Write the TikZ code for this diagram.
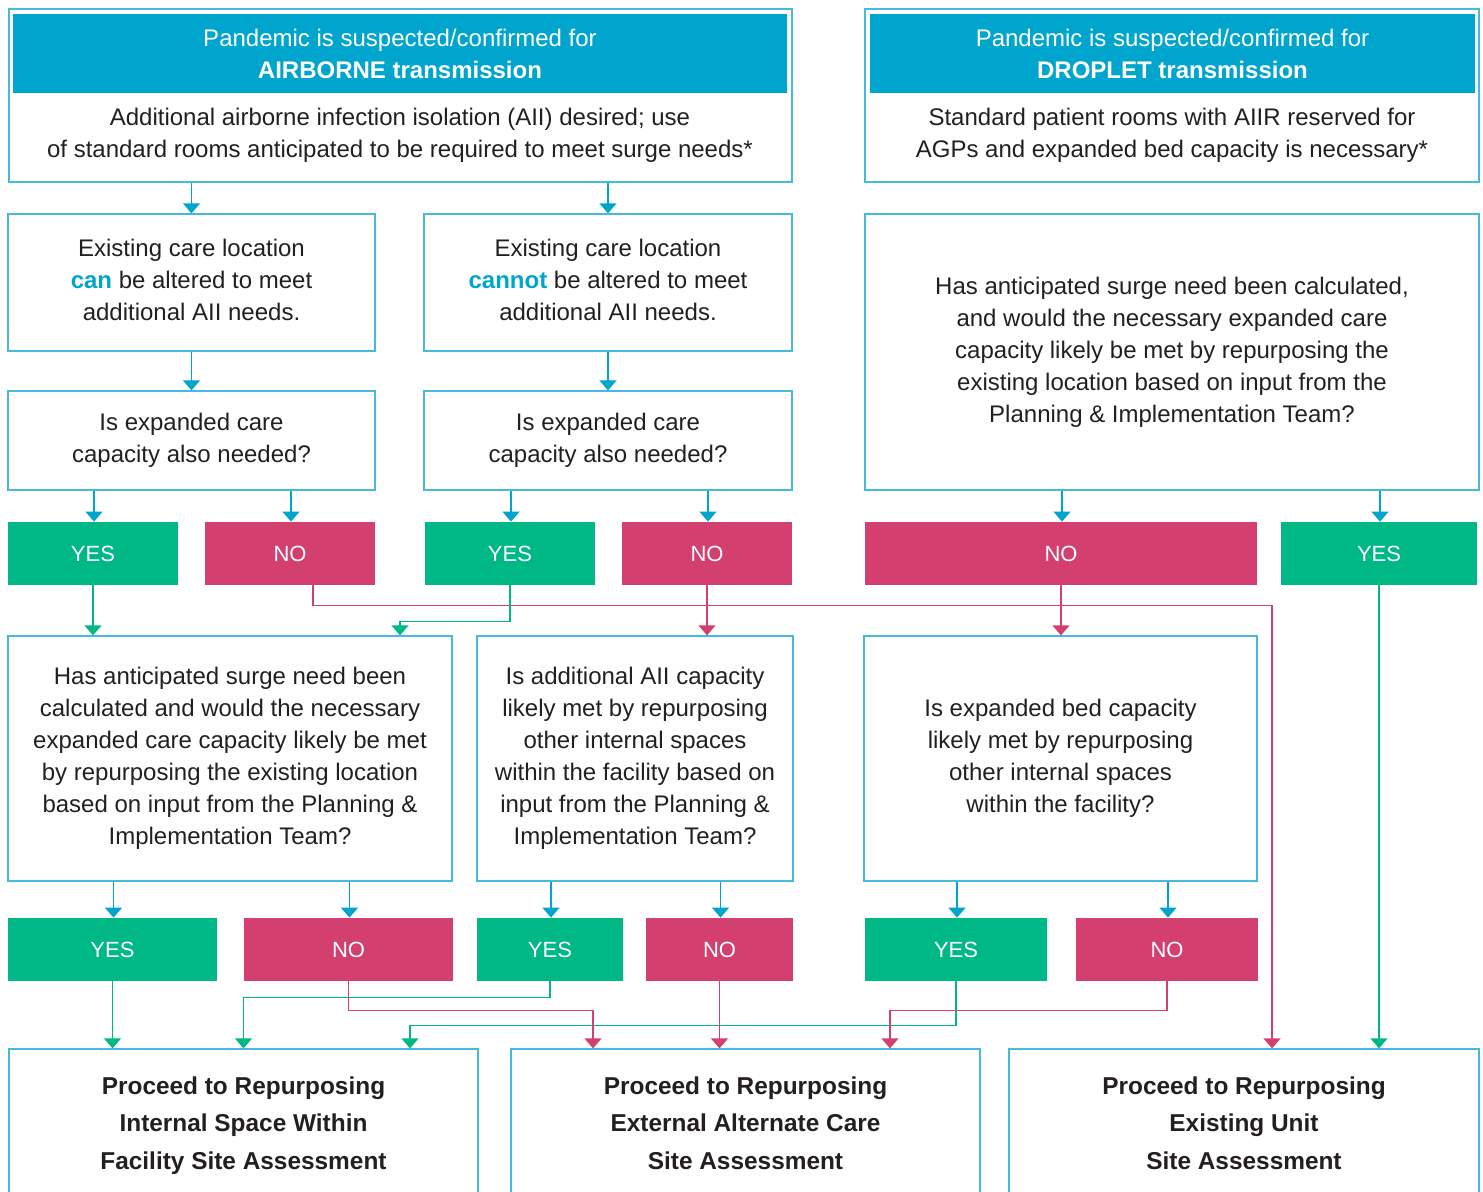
\documentclass[tikz,border=0pt]{standalone}
\usepackage{fontspec}
\setmainfont{Liberation Sans}
\usetikzlibrary{calc}
\usetikzlibrary{arrows.meta}
\definecolor{hdrblue}{RGB}{0,165,206}
\definecolor{edgeblue}{RGB}{70,186,219}
\definecolor{yesgreen}{RGB}{0,184,134}
\definecolor{nopink}{RGB}{211,63,110}
\definecolor{txt}{RGB}{35,31,32}
\tikzset{every picture/.style={/utils/exec={\fontsize{12}{16}\selectfont}}}
\tikzset{
  box/.style={draw=edgeblue, line width=0.65pt, align=center, text=txt, inner sep=0pt},
  hdr/.style={fill=hdrblue, text=white, align=center, inner sep=0pt},
  yesbtn/.style={fill=yesgreen, text=white, minimum height=31.5pt, inner sep=0pt,
    font=\fontsize{11}{16}\selectfont},
  nobtn/.style={fill=nopink, text=white, minimum height=31.5pt, inner sep=0pt,
    font=\fontsize{11}{16}\selectfont},
  arrowtip/.style={-{Triangle[width=8.5pt,length=5pt]}},
  bline/.style={arrowtip, draw=hdrblue, line width=0.75pt},
  gline/.style={arrowtip, draw=yesgreen, line width=0.75pt},
  pline/.style={arrowtip, draw=nopink, line width=0.75pt},
  sitebox/.style={box, minimum width=234.5pt, minimum height=75pt,
    font=\fontsize{12.2}{18.75}\selectfont\bfseries},
}
\newcommand{\hl}[1]{\textcolor{hdrblue}{\textbf{#1}}}

\begin{document}
\begin{tikzpicture}[x=0.5pt,y=-0.5pt]
  \useasboundingbox (0,0) rectangle (1483,1191);

  % top panels
  \node[box, minimum width=391.5pt, minimum height=86.5pt] (airpanel) at (400.5,95.5) {};
  \node[hdr, minimum width=387pt, minimum height=39.5pt] (airhdr) at (400,53.5)
    {Pandemic is suspected/confirmed for\\\textbf{AIRBORNE transmission}};
  \node[text=txt, align=center] (airtxt) at (400,135.5)
    {Additional airborne infection isolation (AII) desired; use\\of standard rooms anticipated to be required to meet surge needs*};

  \node[box, minimum width=307pt, minimum height=86.5pt] (droppanel) at (1172,95.5) {};
  \node[hdr, minimum width=302.5pt, minimum height=39.5pt] (drophdr) at (1172.5,53.5)
    {Pandemic is suspected/confirmed for\\\textbf{DROPLET transmission}};
  \node[text=txt, align=center] (droptxt) at (1172,135.5)
    {Standard patient rooms with AIIR reserved for\\AGPs and expanded bed capacity is necessary*};

  % questions
  \node[box, minimum width=183.5pt, minimum height=68.5pt] (boxa) at (191.5,282.5)
    {Existing care location\\\hl{can} be altered to meet\\additional AII needs.\vphantom{p}};
  \node[box, minimum width=184pt, minimum height=68.5pt] (boxb) at (608,282.5)
    {Existing care location\\\hl{cannot} be altered to meet\\additional AII needs.\vphantom{p}};
  \node[box, minimum width=307pt, minimum height=138pt] (dropq) at (1172,352)
    {Has anticipated surge need been calculated,\\and would the necessary expanded care\\capacity likely be met by repurposing the\\existing location based on input from the\\Planning \& Implementation Team?};
  \node[box, minimum width=183.5pt, minimum height=49.5pt] (boxc) at (191.5,440.5)
    {Is expanded care\\capacity also needed?};
  \node[box, minimum width=184pt, minimum height=49.5pt] (boxd) at (608,440.5)
    {Is expanded care\\capacity also needed?};

  \node[yesbtn, minimum width=85pt] (yes1) at (93,553.5) {YES};
  \node[nobtn, minimum width=85pt] (no1) at (290,553.5) {NO};
  \node[yesbtn, minimum width=85pt] (yes2) at (510,553.5) {YES};
  \node[nobtn, minimum width=85pt] (no2) at (707,553.5) {NO};
  \node[nobtn, minimum width=196pt] (no3) at (1061,553.5) {NO};
  \node[yesbtn, minimum width=98pt] (yes3) at (1379,553.5) {YES};

  \node[box, minimum width=222pt, minimum height=122.5pt] (boxe) at (230,758.5)
    {Has anticipated surge need been\\calculated and would the necessary\\expanded care capacity likely be met\\by repurposing the existing location\\based on input from the Planning \&\\Implementation Team?};
  \node[box, minimum width=158pt, minimum height=122.5pt] (boxf) at (635,758.5)
    {Is additional AII capacity\\likely met by repurposing\\other internal spaces\\within the facility based on\\input from the Planning \&\\Implementation Team?};
  \node[box, minimum width=196.5pt, minimum height=122.5pt] (boxg) at (1060.5,758.5)
    {Is expanded bed capacity\\likely met by repurposing\\other internal spaces\\within the facility?};

  \node[yesbtn, minimum width=104.5pt] (yes4) at (112.5,949.5) {YES};
  \node[nobtn, minimum width=104.5pt] (no4) at (348.5,949.5) {NO};
  \node[yesbtn, minimum width=73pt] (yes5) at (550,949.5) {YES};
  \node[nobtn, minimum width=73.5pt] (no5) at (719.5,949.5) {NO};
  \node[yesbtn, minimum width=91pt] (yes6) at (956,949.5) {YES};
  \node[nobtn, minimum width=91pt] (no6) at (1167,949.5) {NO};

  % outcomes
  \node[sitebox] (intsite) at (243.5,1124) {\strut Proceed to Repurposing\\Internal Space Within\\Facility Site Assessment\strut};
  \node[sitebox] (extsite) at (745.5,1124) {\strut Proceed to Repurposing\\External Alternate Care\\Site Assessment\strut};
  \node[sitebox, minimum width=235pt] (unit) at (1244,1124) {\strut Proceed to Repurposing\\Existing Unit\\Site Assessment\strut};

  % blue connectors
  \foreach \a/\b in {airpanel/boxa, airpanel/boxb, boxa/boxc, boxb/boxd}
    \draw[bline] (\b.north |- \a.south) -- (\b.north);
  \foreach \a/\b in {boxc/yes1, boxc/no1, boxd/yes2, boxd/no2, dropq/no3, dropq/yes3,
                     boxe/yes4, boxe/no4, boxf/yes5, boxf/no5, boxg/yes6, boxg/no6}
    \draw[bline] ($(\b.north |- \a.south)+(1,0)$) -- ($(\b.north)+(1,0)$);

  % answers to next step
  \draw[gline] (yes1.south) -- (yes1.south |- boxe.north);
  \draw[pline] ($(no1.south)+(23,0)$) -- ++(0,20) -| ($(unit.north)+(28,0)$);
  \draw[gline] (yes2.south) -- ++(0,36) -| ($(boxe.north)+(170,0)$);
  \draw[pline] (no2.south) -- (no2.south |- boxf.north);
  \draw[pline] (no3.south) -- (no3.south |- boxg.north);
  \draw[gline] (yes3.south) -- (yes3.south |- unit.north);

  \draw[gline] (yes4.south) -- (yes4.south |- intsite.north);
  \draw[gline] (yes5.south) -- ++(0,16) -| (intsite.north);
  \draw[gline] (yes6.south) -- ++(0,44) -| ($(intsite.north)+(166.5,0)$);
  \draw[pline] (no4.south) -- ++(0,29) -| ($(extsite.north)+(-152.5,0)$);
  \draw[pline] (no5.south) -- (no5.south |- extsite.north);
  \draw[pline] (no6.south) -- ++(0,29) -| ($(extsite.north)+(144.5,0)$);
\end{tikzpicture}
\end{document}
